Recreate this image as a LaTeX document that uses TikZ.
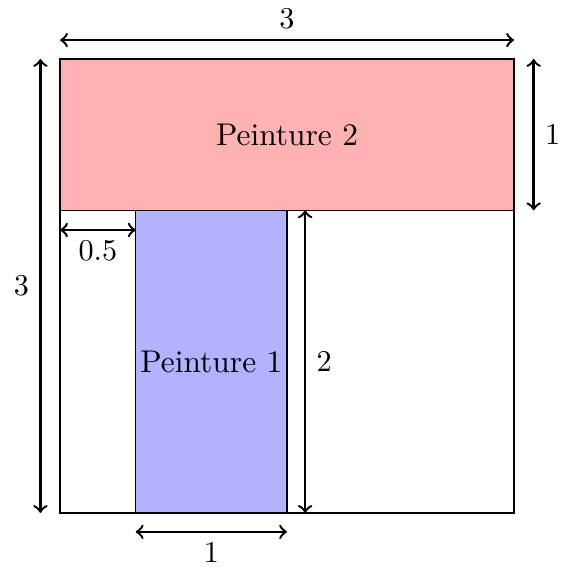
\documentclass[tikz,border=0pt]{standalone}
\begin{document}
\begin{tikzpicture}[x=1.76cm,y=1.76cm,
  dim/.style={thick,<->},
  every node/.style={font=\fontsize{10.4}{12.5}\selectfont},
  lbl/.style={inner sep=3.4pt}]
\useasboundingbox (-0.397,-0.397) rectangle (3.311,3.390);
\fill[red!30] (0,2) rectangle (3,3);
\fill[blue!30] (0.5,0) rectangle (1.5,2);
\draw (0,2) -- (3,2);
\draw (0.5,0) rectangle (1.5,2);
\draw[thick] (0,0) rectangle (3,3);
\node (p2) at (1.5,2.5) {Peinture 2};
\node (p1) at (1,1) {Peinture 1};
% dimension coordinates
\coordinate (t1) at (0,3.125); \coordinate (t2) at (3,3.125);
\coordinate (l1) at (-0.13,0); \coordinate (l2) at (-0.13,3);
\coordinate (r1) at (3.13,2); \coordinate (r2) at (3.13,3);
\coordinate (m1) at (1.62,0); \coordinate (m2) at (1.62,2);
\coordinate (h1) at (0,1.87); \coordinate (h2) at (0.5,1.87);
\coordinate (b1) at (0.5,-0.125); \coordinate (b2) at (1.5,-0.125);
\draw[dim] (t1) -- node[above,lbl] (lt) {$3$} (t2);
\draw[dim] (l1) -- node[left,lbl] (ll) {$3$} (l2);
\draw[dim] (r1) -- node[right,lbl] (lr) {$1$} (r2);
\draw[dim] (m1) -- node[right,lbl] (lm) {$2$} (m2);
\draw[dim] (h1) -- node[below,lbl] (lh) {$0.5$} (h2);
\draw[dim] (b1) -- node[below,lbl] (lb) {$1$} (b2);
\end{tikzpicture}
\end{document}
